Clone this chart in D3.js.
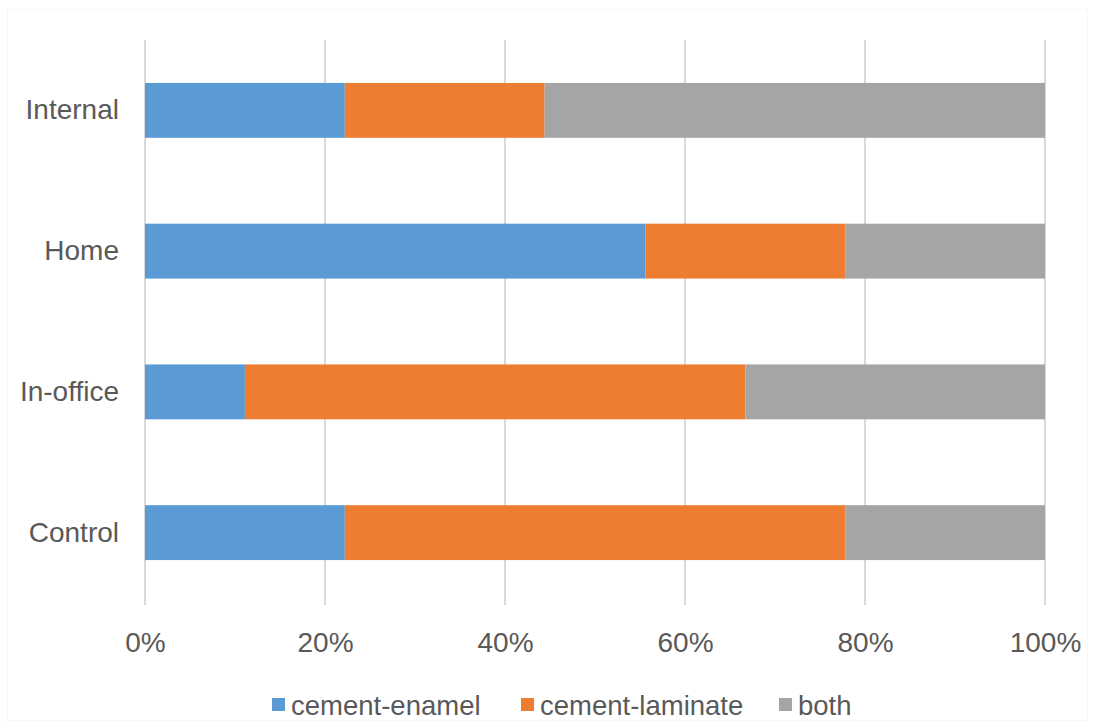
<!DOCTYPE html>
<html><head><meta charset="utf-8">
<script src="https://cdn.jsdelivr.net/npm/d3@7"></script>
<style>body{margin:0;background:#fff;}svg{display:block;font-family:"Liberation Sans",Arial,sans-serif;}</style>
</head><body><svg id="c" width="1095" height="723"></svg>
<script>
const categories = ["Internal", "Home", "In-office", "Control"];
const seriesNames = ["cement-enamel", "cement-laminate", "both"];
const cementEnamel = [22.2, 55.6, 11.1, 22.2];
const cementLaminate = [22.2, 22.2, 55.6, 55.6];
const both = [55.6, 22.2, 33.3, 22.2];
const tickValues = [0, 20, 40, 60, 80, 100];
const colors = ["#5B9BD5", "#ED7D31", "#A5A5A5"];

const svg = d3.select("#c");
const W = 1095, H = 723;
const m = {left: 145, right: 50, top: 40, bottom: 120};

svg.append("rect").attr("x", 7.5).attr("y", 9.5).attr("width", W - 15).attr("height", H - 12)
  .attr("fill", "#fff").attr("stroke", "#f7f7f7");

const x = d3.scaleLinear().domain([0, 100]).range([m.left, W - m.right]);
const y = d3.scaleBand().domain(categories).range([m.top, H - m.bottom]).paddingInner(0.61).paddingOuter(0.305);

const rows = categories.map((c, i) => ({cat: c, "cement-enamel": cementEnamel[i], "cement-laminate": cementLaminate[i], "both": both[i]}));
const stacked = d3.stack().keys(seriesNames)(rows.map(r => {
  const t = r["cement-enamel"] + r["cement-laminate"] + r["both"];
  return {cat: r.cat, "cement-enamel": r["cement-enamel"] / t * 100, "cement-laminate": r["cement-laminate"] / t * 100, "both": r["both"] / t * 100};
}));

// gridlines
svg.append("g").selectAll("line").data(tickValues).join("line")
  .attr("x1", d => x(d)).attr("x2", d => x(d))
  .attr("y1", m.top).attr("y2", H - m.bottom + 2)
  .attr("stroke", "#d9d9d9").attr("stroke-width", 2);

svg.append("g").selectAll("g").data(stacked).join("g")
  .attr("fill", (d, i) => colors[i])
  .selectAll("rect").data(d => d).join("rect")
  .attr("x", d => x(d[0])).attr("width", d => x(d[1]) - x(d[0]))
  .attr("y", d => y(d.data.cat)).attr("height", y.bandwidth());

// x axis
const xAxis = svg.append("g").attr("transform", `translate(0,${H - m.bottom})`)
  .call(d3.axisBottom(x).tickValues(tickValues).tickFormat(d => d + "%").tickSize(0).tickPadding(29));
xAxis.select(".domain").remove();
xAxis.selectAll("text").attr("font-size", 28).attr("fill", "#595959").attr("font-family", "Liberation Sans, Arial, sans-serif");

// y axis
const yAxis = svg.append("g").attr("transform", `translate(${m.left},0)`)
  .call(d3.axisLeft(y).tickSize(0).tickPadding(26));
yAxis.select(".domain").remove();
yAxis.selectAll("text").attr("font-size", 28).attr("fill", "#595959").attr("font-family", "Liberation Sans, Arial, sans-serif");

// legend
const legendX = [272, 521, 779];
const lg = svg.append("g").selectAll("g").data(seriesNames).join("g")
  .attr("transform", (d, i) => `translate(${legendX[i]},705)`);
lg.append("rect").attr("x", 0).attr("y", -7).attr("width", 13).attr("height", 13).attr("fill", (d, i) => colors[i]);
lg.append("text").attr("x", 19).attr("y", 10).attr("font-size", 27.5).attr("fill", "#595959").text(d => d);
</script></body></html>
